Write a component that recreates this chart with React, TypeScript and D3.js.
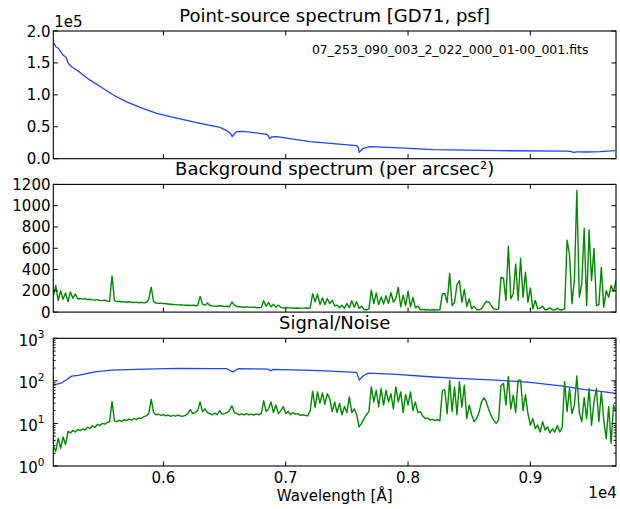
import React from 'react';
import * as d3 from 'd3';

// ---------- data ----------
const WAVE_START = 5100; // Å, first sample of the uniform grid
const WAVE_STEP = 20; // Å per sample
const X_DOMAIN = [5100, 9700];
const X_TICKS = [6000, 7000, 8000, 9000];
const X_TICK_LABELS = ['0.6', '0.7', '0.8', '0.9'];

const FLUX_TICKS = [0, 50000, 100000, 150000, 200000];
const BG_TICKS = [0, 200, 400, 600, 800, 1000, 1200];
const SN_TICKS = [1, 10, 100, 1000];
const SN_TICK_EXP = ['0', '1', '2', '3'];

// Point-source spectrum (counts)
const FLUX_WAVE = [5106, 5122, 5141, 5155, 5170, 5182, 5204, 5223, 5250, 5291, 5345, 5400, 5482, 5591, 5700, 5809, 5945, 6081, 6272, 6299, 6463, 6518, 6545, 6563, 6580, 6599, 6653, 6845, 6858, 6870, 6885, 6926, 7198, 7580, 7592, 7601, 7615, 7634, 7689, 7934, 8207, 8752, 9297, 9330, 9349, 9380, 9405, 9461, 9569, 9692];
const FLUX_VAL = [180700, 175000, 173000, 169000, 165000, 162000, 159000, 149000, 144000, 139000, 131000, 123000, 113000, 99800, 89000, 80500, 71000, 64800, 56500, 55400, 49000, 44000, 40000, 34500, 39000, 42300, 42900, 38200, 36000, 31300, 34000, 34500, 26600, 20400, 18000, 10000, 13000, 16300, 18800, 16800, 14100, 12500, 12000, 11500, 10000, 10800, 10700, 10500, 11000, 12500];

// Background spectrum (per arcsec^2), uniform grid
const BG_VAL = [
  150, 250, 110, 200, 120, 180, 100, 190, 130, 170,
  125, 128, 122, 126, 118, 121, 115, 112, 117, 110,
  108, 112, 104, 100, 340, 110, 98, 102, 95, 99,
  93, 97, 92, 90, 94, 88, 91, 87, 90, 120,
  235, 100, 85, 82, 84, 80, 78, 76, 74, 72,
  70, 68, 69, 66, 64, 65, 62, 66, 60, 62,
  148, 75, 65, 85, 62, 58, 56, 55, 60, 57,
  52, 55, 50, 95, 65, 52, 50, 48, 46, 49,
  47, 44, 45, 43, 41, 44, 106, 56, 90, 50,
  75, 48, 65, 45, 40, 38, 42, 37, 39, 36,
  38, 35, 37, 40, 36, 38, 174, 97, 168, 70,
  134, 70, 128, 80, 112, 60, 65, 40, 65, 35,
  81, 40, 106, 45, 97, 35, 55, 25, 20, 30,
  206, 80, 181, 70, 143, 75, 153, 80, 184, 95,
  128, 231, 50, 159, 60, 196, 50, 137, 40, 56,
  22, 25, 20, 24, 18, 22, 20, 23, 21, 171,
  175, 90, 364, 62, 90, 258, 296, 93, 212, 53,
  125, 31, 56, 25, 22, 30, 70, 100, 95, 60,
  30, 25, 28, 327, 320, 109, 620, 125, 171, 452,
  109, 505, 140, 374, 93, 227, 31, 109, 31, 40,
  56, 22, 25, 40, 22, 20, 37, 22, 20, 30,
  676, 540, 78, 300, 1143, 140, 265, 788, 62, 773,
  296, 598, 62, 70, 420, 47, 202, 140, 249, 193,
  296,
];

// Signal/Noise of the point source (blue)
const SN_SRC_WAVE = [5100, 5169, 5210, 5250, 5304, 5441, 5577, 5850, 6122, 6395, 6518, 6567, 6612, 6858, 6874, 6899, 7212, 7362, 7580, 7601, 7634, 7675, 7907, 8179, 8398, 8725, 8997, 9269, 9433, 9542, 9700];
const SN_SRC_VAL = [79.5, 90, 108, 129, 134, 163, 179, 189, 196, 193, 193, 163, 193, 189, 172, 186, 176, 170, 158, 104, 132, 152, 142, 125, 114, 104, 92, 75, 63, 58, 51];

// Signal/Noise of the background (green), uniform grid
const SN_BG_VAL = [
  3.0, 2.2, 4.5, 2.6, 4.8, 3.2, 6.5, 6.0, 6.8, 6.3,
  7.2, 6.8, 7.5, 7.0, 8.2, 7.6, 8.8, 8.0, 9.5, 9.0,
  10.0, 9.6, 10.5, 11.0, 33, 11.5, 11.0, 11.8, 11.2, 12.2,
  11.6, 12.6, 12.0, 13.0, 12.4, 13.5, 13.0, 14.5, 15.0, 17,
  37, 18, 16, 16.5, 15.5, 16, 15, 15.8, 14.6, 15.4,
  14.8, 15.6, 15.0, 14.8, 15.5, 17, 21, 17, 18, 20,
  32, 19, 22, 18, 17, 16, 17.5, 16, 20, 16.5,
  17, 18, 20, 26, 18, 17, 16, 16.8, 15.8, 17,
  16, 16.5, 15.6, 16.8, 16, 17, 34, 19, 22, 32,
  18, 27, 17, 20, 25, 17, 19, 16, 18, 16.5,
  17, 15.5, 16, 15.5, 15, 20, 57, 24, 55, 30,
  52, 28, 50, 38, 19, 32, 18, 30, 16, 25,
  18, 42, 18, 22, 16, 8.3, 10, 13, 16, 19,
  72, 32, 60, 25, 66, 27, 60, 32, 50, 22,
  72, 32, 55, 18, 48, 27, 55, 20, 32, 18,
  19, 15, 13, 13.5, 12, 12.5, 11.8, 12.2, 11.5, 58,
  62, 17, 104, 19, 72, 16, 95, 24, 79, 13,
  27, 16, 11, 13, 18, 32, 40, 32, 21, 15,
  12, 10, 12, 79, 87, 27, 126, 22, 46, 18,
  104, 104, 20, 48, 17, 9.1, 13, 7.6, 9.1, 6.3,
  11, 7, 8.3, 6, 7.5, 6.3, 9, 6.3, 8, 95,
  19, 66, 17, 27, 131, 18, 11, 40, 13, 66,
  9, 32, 66, 11, 55, 12, 4.4, 25, 3.4, 27,
  19,
];

const TITLES = ['Point-source spectrum [GD71, psf]', 'Background spectrum (per arcsec\u00b2)', 'Signal/Noise'];
const FITS_NAME = '07_253_090_003_2_022_000_01-00_001.fits';
const X_LABEL = 'Wavelength [\u00c5]';

// ---------- layout ----------
const W = 620;
const H = 509;
const X0 = 53.3;
const X1 = 616;
const TOPS = [31, 184.4, 338.3];
const PH = 127.7;
const FONT = 'DejaVu Sans, Verdana, sans-serif';
const BLUE = '#1f45ff';
const GREEN = '#008a00';
const MAJ = 4.5;
const MIN = 2.3;

const gridWave = (n: number) => d3.range(n).map((i) => WAVE_START + i * WAVE_STEP);

export default function App() {
  const x = d3.scaleLinear().domain(X_DOMAIN).range([X0, X1]);
  const y1 = d3.scaleLinear().domain([0, 200000]).range([TOPS[0] + PH, TOPS[0]]);
  const y2 = d3.scaleLinear().domain([0, 1200]).range([TOPS[1] + PH, TOPS[1]]);
  const y3 = d3.scaleLog().domain([1, 1000]).range([TOPS[2] + PH, TOPS[2]]);

  const fluxPts: [number, number][] = FLUX_WAVE.map((w, i) => [w, FLUX_VAL[i]]);
  const bgW = gridWave(BG_VAL.length);
  const bgPts: [number, number][] = BG_VAL.map((v, i) => [bgW[i], v]);
  const snSrcPts: [number, number][] = SN_SRC_WAVE.map((w, i) => [w, SN_SRC_VAL[i]]);
  const snW = gridWave(SN_BG_VAL.length);
  const snBgPts: [number, number][] = SN_BG_VAL.map((v, i) => [snW[i], v]);

  const mk = (ys: any) => d3.line<[number, number]>().x((d) => x(d[0])).y((d) => ys(d[1]));

  const minorLog: number[] = [];
  [1, 10, 100].forEach((d) => {
    for (let k = 2; k <= 9; k++) minorLog.push(d * k);
  });

  const xTicks = (p: number) => {
    const top = TOPS[p];
    const bot = TOPS[p] + PH;
    return X_TICKS.map((t) => (
      <g key={'xt' + p + t}>
        <line x1={x(t)} x2={x(t)} y1={bot} y2={bot - MAJ} stroke="#000" strokeWidth={1} />
        <line x1={x(t)} x2={x(t)} y1={top} y2={top + MAJ} stroke="#000" strokeWidth={1} />
      </g>
    ));
  };

  const yTicks = (ys: any, ticks: number[], len: number, keyp: string) =>
    ticks.map((t) => (
      <g key={keyp + t}>
        <line x1={X0} x2={X0 + len} y1={ys(t)} y2={ys(t)} stroke="#000" strokeWidth={1} />
        <line x1={X1} x2={X1 - len} y1={ys(t)} y2={ys(t)} stroke="#000" strokeWidth={1} />
      </g>
    ));

  const frame = (p: number) => (
    <rect x={X0} y={TOPS[p]} width={X1 - X0} height={PH} fill="none" stroke="#000" strokeWidth={1.1} />
  );

  const titleX = (X0 + X1) / 2;

  return (
    <svg
      width={W}
      height={H}
      viewBox={`0 0 ${W} ${H}`}
      style={{ position: 'absolute', left: 0, top: 0, background: '#fff' }}
      fontFamily={FONT}
    >
      <rect x={0} y={0} width={W} height={H} fill="#fff" />
      <defs>
        {TOPS.map((t, i) => (
          <clipPath id={'clip' + i} key={'c' + i}>
            <rect x={X0} y={t} width={X1 - X0} height={PH} />
          </clipPath>
        ))}
      </defs>

      {/* titles */}
      {TITLES.map((t, i) => (
        <text key={'t' + i} x={titleX} y={TOPS[i] - 9.5} textAnchor="middle" fontSize={18} fill="#000">
          {t}
        </text>
      ))}

      {/* panel 1 */}
      <g clipPath="url(#clip0)">
        <path d={mk(y1)(fluxPts) || ''} fill="none" stroke={BLUE} strokeWidth={1.3} strokeLinejoin="round" />
      </g>
      {xTicks(0)}
      {yTicks(y1, FLUX_TICKS, MAJ, 'f')}
      {frame(0)}
      {FLUX_TICKS.map((t) => (
        <text key={'fl' + t} x={50.5} y={y1(t) + 5.5} textAnchor="end" fontSize={15}>
          {(t / 1e5).toFixed(1)}
        </text>
      ))}
      <text x={54.3} y={26.7} fontSize={15}>1e5</text>
      <text x={588.5} y={53.5} textAnchor="end" fontSize={12.5}>{FITS_NAME}</text>

      {/* panel 2 */}
      <g clipPath="url(#clip1)">
        <path d={mk(y2)(bgPts) || ''} fill="none" stroke={GREEN} strokeWidth={1.4} strokeLinejoin="round" />
      </g>
      {xTicks(1)}
      {yTicks(y2, BG_TICKS, MAJ, 'b')}
      {frame(1)}
      {BG_TICKS.map((t) => (
        <text key={'bl' + t} x={50.5} y={y2(t) + 5.5} textAnchor="end" fontSize={15}>
          {t}
        </text>
      ))}

      {/* panel 3 */}
      <g clipPath="url(#clip2)">
        <path d={mk(y3)(snSrcPts) || ''} fill="none" stroke={BLUE} strokeWidth={1.3} strokeLinejoin="round" />
        <path d={mk(y3)(snBgPts) || ''} fill="none" stroke={GREEN} strokeWidth={1.4} strokeLinejoin="round" />
      </g>
      {xTicks(2)}
      {yTicks(y3, SN_TICKS, MAJ, 's')}
      {yTicks(y3, minorLog, MIN, 'm')}
      {frame(2)}
      {SN_TICKS.map((t, i) => (
        <text key={'sl' + t} x={44.5} y={y3(t) + 7.3} textAnchor="end" fontSize={15}>
          10
          <tspan dy={-7.5} fontSize={10.5}>{SN_TICK_EXP[i]}</tspan>
        </text>
      ))}

      {/* x axis labels */}
      {X_TICKS.map((t, i) => (
        <text key={'xl' + t} x={x(t)} y={482.7} textAnchor="middle" fontSize={15}>
          {X_TICK_LABELS[i]}
        </text>
      ))}
      <text x={titleX} y={501} textAnchor="middle" fontSize={15}>{X_LABEL}</text>
      <text x={616.7} y={497.5} textAnchor="end" fontSize={15}>1e4</text>
    </svg>
  );
}
